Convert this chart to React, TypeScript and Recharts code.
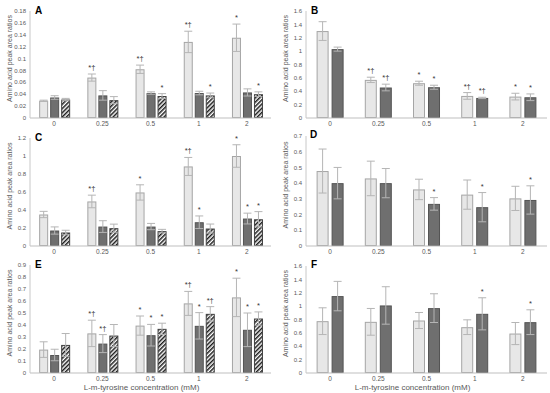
import React from 'react';
import { BarChart, Bar, XAxis, YAxis, ErrorBar } from 'recharts';

const categories = ['0', '0.25', '0.5', '1', '2'];

// Panel A
const aLight = [0.029, 0.068, 0.082, 0.128, 0.135];
const aLightErr = [0.001, 0.006, 0.007, 0.018, 0.023];
const aDark = [0.0345, 0.038, 0.042, 0.042, 0.043];
const aDarkErr = [0.003, 0.008, 0.002, 0.003, 0.006];
const aHatch = [0.031, 0.03, 0.037, 0.038, 0.04];
const aHatchErr = [0.002, 0.006, 0.004, 0.004, 0.004];
const aLightSig = ['', '*†', '*†', '*†', '*'];
const aDarkSig = ['', '', '', '', ''];
const aHatchSig = ['', '', '*', '*', '*'];
const aTicks = [0, 0.02, 0.04, 0.06, 0.08, 0.1, 0.12, 0.14, 0.16, 0.18];

// Panel B
const bLight = [1.3, 0.57, 0.52, 0.33, 0.32];
const bLightErr = [0.14, 0.04, 0.03, 0.05, 0.05];
const bDark = [1.03, 0.456, 0.46, 0.3, 0.31];
const bDarkErr = [0.03, 0.05, 0.03, 0.01, 0.05];
const bLightSig = ['', '*†', '*', '*†', '*'];
const bDarkSig = ['', '*†', '*', '*†', '*'];
const bTicks = [0, 0.2, 0.4, 0.6, 0.8, 1, 1.2, 1.4, 1.6];

// Panel C
const cLight = [0.35, 0.495, 0.595, 0.884, 1.0];
const cLightErr = [0.035, 0.07, 0.085, 0.1, 0.125];
const cDark = [0.172, 0.216, 0.216, 0.264, 0.305];
const cDarkErr = [0.04, 0.065, 0.035, 0.07, 0.06];
const cHatch = [0.15, 0.198, 0.165, 0.194, 0.297];
const cHatchErr = [0.025, 0.045, 0.02, 0.05, 0.085];
const cLightSig = ['', '*†', '*', '*†', '*'];
const cDarkSig = ['', '', '', '*', '*'];
const cHatchSig = ['', '', '', '', '*'];
const cTicks = [0, 0.2, 0.4, 0.6, 0.8, 1, 1.2];

// Panel D
const dLight = [0.477, 0.43, 0.36, 0.327, 0.303];
const dLightErr = [0.14, 0.11, 0.065, 0.093, 0.077];
const dDark = [0.4, 0.4, 0.268, 0.247, 0.293];
const dDarkErr = [0.1, 0.093, 0.04, 0.093, 0.09];
const dLightSig = ['', '', '', '', ''];
const dDarkSig = ['', '', '*', '*', '*'];
const dTicks = [0, 0.1, 0.2, 0.3, 0.4, 0.5, 0.6, 0.7];

// Panel E
const eLight = [0.195, 0.33, 0.395, 0.58, 0.63];
const eLightErr = [0.065, 0.11, 0.08, 0.1, 0.16];
const eDark = [0.15, 0.245, 0.315, 0.393, 0.36];
const eDarkErr = [0.048, 0.075, 0.09, 0.11, 0.14];
const eHatch = [0.234, 0.312, 0.368, 0.493, 0.454];
const eHatchErr = [0.095, 0.092, 0.047, 0.06, 0.055];
const eLightSig = ['', '*†', '*', '*†', '*'];
const eDarkSig = ['', '*†', '*', '*', '*'];
const eHatchSig = ['', '', '*', '*†', '*'];
const eTicks = [0, 0.1, 0.2, 0.3, 0.4, 0.5, 0.6, 0.7, 0.8, 0.9];

// Panel F
const fLight = [0.775, 0.765, 0.785, 0.685, 0.59];
const fLightErr = [0.2, 0.2, 0.12, 0.11, 0.165];
const fDark = [1.15, 1.01, 0.97, 0.885, 0.76];
const fDarkErr = [0.22, 0.28, 0.215, 0.24, 0.185];
const fLightSig = ['', '', '', '', ''];
const fDarkSig = ['', '', '', '*', '*'];
const fTicks = [0, 0.2, 0.4, 0.6, 0.8, 1, 1.2, 1.4, 1.6];

const yTitle = 'Amino acid peak area ratios';
const xTitle = 'L-m-tyrosine concentration (mM)';

const FONT = '"Liberation Sans", Arial, sans-serif';
const TEXT = '#595959';

type Series = { values: number[]; errs: number[]; sigs: string[]; kind: 'light' | 'dark' | 'hatch' };

const styleOf = (kind: string, pid: string) => {
  if (kind === 'light') return { fill: '#e7e7e7', stroke: '#a5a5a5' };
  if (kind === 'dark') return { fill: '#6f6f6f', stroke: '#545454' };
  return { fill: `url(#hatch-${pid})`, stroke: '#404040' };
};

const makeShape = (key: string, errKey: string, sigs: string[], fill: string, stroke: string) => (props: any) => {
  const { x, y, width, height, index, payload } = props;
  const val = payload[key];
  const err = payload[errKey];
  const errTop = val > 0 ? y - (height / val) * err : y;
  const sig = sigs[index];
  return (
    <g>
      <rect x={x + 0.5} y={y + 0.5} width={Math.max(width - 1, 0)} height={Math.max(height - 1, 0)} fill={fill} stroke={stroke} strokeWidth={1} />
      {sig ? (
        <text x={x + width / 2} y={errTop - 4} textAnchor="middle" fontSize={7.5} fill="#333333" fontFamily={FONT}>
          {sig}
        </text>
      ) : null}
    </g>
  );
};

const fmt = (v: number) => String(+v.toFixed(2));

type PanelProps = {
  pid: string;
  letter: string;
  series: Series[];
  ticks: number[];
  left: number;
  top: number;
  height: number;
  yWidth: number;
  rightMargin: number;
  xAxisHeight: number;
  letterPos: [number, number];
  showXTitle: boolean;
  xTitleDx: number;
  catGap: string;
  barGap: number;
};

function Panel(p: PanelProps) {
  const data = categories.map((c, i) => {
    const row: any = { cat: c };
    p.series.forEach((s, j) => {
      row['v' + j] = s.values[i];
      row['e' + j] = s.errs[i];
    });
    return row;
  });
  const max = p.ticks[p.ticks.length - 1];
  return (
    <div style={{ position: 'absolute', left: p.left, top: p.top, width: 275, height: p.height }}>
      <BarChart
        width={275}
        height={p.height}
        data={data}
        margin={{ top: 11, right: p.rightMargin, left: 0, bottom: 0 }}
        barCategoryGap={p.catGap}
        barGap={p.barGap}
      >
        <defs>
          <pattern id={`hatch-${p.pid}`} width={3} height={3} patternUnits="userSpaceOnUse" patternTransform="rotate(45)">
            <rect x={0} y={0} width={3} height={3} fill="#ffffff" />
            <rect x={0} y={0} width={1.5} height={3} fill="#1a1a1a" />
          </pattern>
        </defs>
        <XAxis
          dataKey="cat"
          height={p.xAxisHeight}
          tickLine={false}
          tickSize={2}
          tickMargin={1.5}
          axisLine={{ stroke: '#bfbfbf' }}
          tick={{ fontSize: 6.5, fill: TEXT, fontFamily: FONT }}
          interval={0}
          label={
            p.showXTitle
              ? { value: xTitle, position: 'insideBottom', offset: 3, dx: p.xTitleDx, fontSize: 8, fill: TEXT, fontFamily: FONT }
              : undefined
          }
        />
        <YAxis
          width={p.yWidth}
          domain={[0, max]}
          ticks={p.ticks}
          tickFormatter={fmt}
          tickLine={false}
          tickSize={2}
          tickMargin={2}
          axisLine={{ stroke: '#c8c8c8' }}
          tick={{ fontSize: 6, fill: TEXT, fontFamily: FONT }}
          interval={0}
          label={{ value: yTitle, angle: -90, position: 'center', dx: -5, dy: -6, fontSize: 7, fill: TEXT, fontFamily: FONT }}
        />
        {p.series.map((s, j) => {
          const st = styleOf(s.kind, p.pid);
          return (
            <Bar
              key={j}
              dataKey={'v' + j}
              isAnimationActive={false}
              shape={makeShape('v' + j, 'e' + j, s.sigs, st.fill, st.stroke)}
            >
              <ErrorBar dataKey={'e' + j} width={4} stroke="#b5b5b5" strokeWidth={1} direction="y" />
            </Bar>
          );
        })}
      </BarChart>
      <div
        style={{
          position: 'absolute',
          left: p.letterPos[0] - p.left,
          top: p.letterPos[1] - p.top,
          fontFamily: FONT,
          fontWeight: 'bold',
          fontSize: 10,
          lineHeight: '10px',
          color: '#000',
        }}
      >
        {p.letter}
      </div>
    </div>
  );
}

export default function App() {
  const three = { catGap: '19%', barGap: 2 };
  const two = { catGap: '22%', barGap: 3 };
  return (
    <div style={{ position: 'absolute', left: 0, top: 0, width: 550, height: 393, background: '#fff', overflow: 'hidden' }}>
      <Panel
        pid="A" letter="A" left={0} top={0} height={130} yWidth={30} rightMargin={4} xAxisHeight={12}
        letterPos={[35, 6]} showXTitle={false} xTitleDx={0} ticks={aTicks} {...three}
        series={[
          { values: aLight, errs: aLightErr, sigs: aLightSig, kind: 'light' },
          { values: aDark, errs: aDarkErr, sigs: aDarkSig, kind: 'dark' },
          { values: aHatch, errs: aHatchErr, sigs: aHatchSig, kind: 'hatch' },
        ]}
      />
      <Panel
        pid="B" letter="B" left={275} top={0} height={130} yWidth={31} rightMargin={3} xAxisHeight={12}
        letterPos={[311, 6]} showXTitle={false} xTitleDx={0} ticks={bTicks} {...two}
        series={[
          { values: bLight, errs: bLightErr, sigs: bLightSig, kind: 'light' },
          { values: bDark, errs: bDarkErr, sigs: bDarkSig, kind: 'dark' },
        ]}
      />
      <Panel
        pid="C" letter="C" left={0} top={127} height={131} yWidth={30} rightMargin={4} xAxisHeight={12}
        letterPos={[35, 133]} showXTitle={false} xTitleDx={0} ticks={cTicks} {...three}
        series={[
          { values: cLight, errs: cLightErr, sigs: cLightSig, kind: 'light' },
          { values: cDark, errs: cDarkErr, sigs: cDarkSig, kind: 'dark' },
          { values: cHatch, errs: cHatchErr, sigs: cHatchSig, kind: 'hatch' },
        ]}
      />
      <Panel
        pid="D" letter="D" left={275} top={125} height={133} yWidth={31} rightMargin={3} xAxisHeight={12}
        letterPos={[310, 130]} showXTitle={false} xTitleDx={0} ticks={dTicks} {...two}
        series={[
          { values: dLight, errs: dLightErr, sigs: dLightSig, kind: 'light' },
          { values: dDark, errs: dDarkErr, sigs: dDarkSig, kind: 'dark' },
        ]}
      />
      <Panel
        pid="E" letter="E" left={0} top={254} height={139} yWidth={30} rightMargin={4} xAxisHeight={20}
        letterPos={[35, 260]} showXTitle={true} xTitleDx={-9} ticks={eTicks} {...three}
        series={[
          { values: eLight, errs: eLightErr, sigs: eLightSig, kind: 'light' },
          { values: eDark, errs: eDarkErr, sigs: eDarkSig, kind: 'dark' },
          { values: eHatch, errs: eHatchErr, sigs: eHatchSig, kind: 'hatch' },
        ]}
      />
      <Panel
        pid="F" letter="F" left={275} top={255} height={138} yWidth={31} rightMargin={3} xAxisHeight={20}
        letterPos={[311, 260]} showXTitle={true} xTitleDx={-14} ticks={fTicks} {...two}
        series={[
          { values: fLight, errs: fLightErr, sigs: fLightSig, kind: 'light' },
          { values: fDark, errs: fDarkErr, sigs: fDarkSig, kind: 'dark' },
        ]}
      />
    </div>
  );
}
